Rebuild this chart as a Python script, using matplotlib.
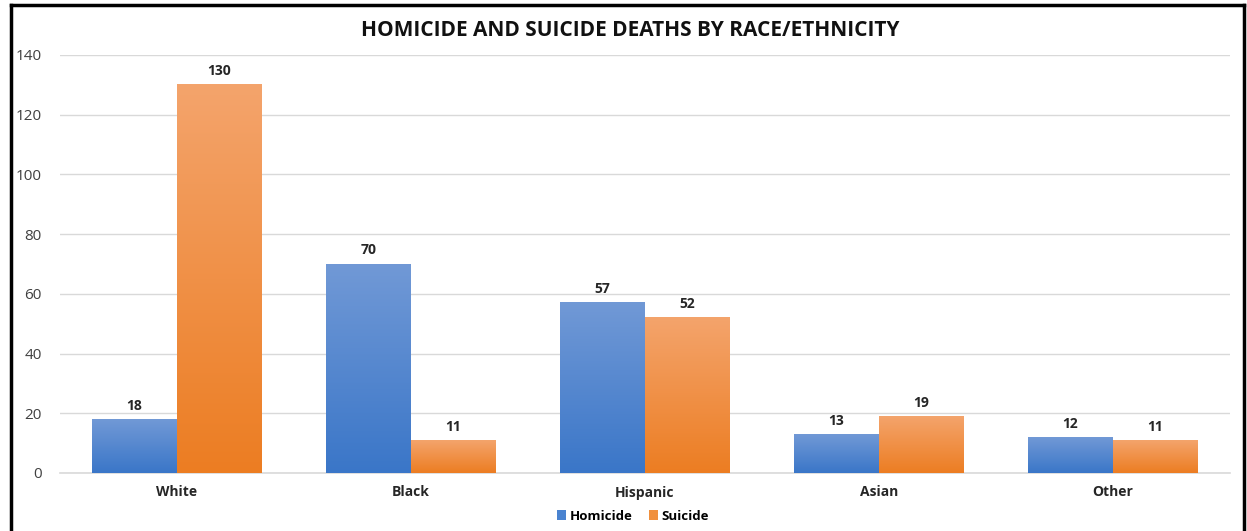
import numpy as np
import matplotlib.pyplot as plt
from matplotlib.colors import LinearSegmentedColormap
from matplotlib.lines import Line2D
from matplotlib.patches import Patch

# --- Data ---
groups = ["White", "Black", "Hispanic", "Asian", "Other"]
homicide = [18, 70, 57, 13, 12]
suicide = [130, 11, 52, 19, 11]

plt.rcParams["font.family"] = ["Open Sans", "DejaVu Sans"]

blue_cmap = LinearSegmentedColormap.from_list("blue", ["#3a76c8", "#7199d6"])
orange_cmap = LinearSegmentedColormap.from_list("orange", ["#ec7d22", "#f4a46c"])

fig = plt.figure(figsize=(12.47, 5.31), dpi=100)
ax = fig.add_axes([60 / 1247, 58 / 531, 1170 / 1247, 418 / 531])

x = np.arange(len(groups))
w = 0.363
grad = np.linspace(0, 1, 256).reshape(-1, 1)


def gradient_bar(xl, h, cmap):
    # vertical gradient, lighter at the top of the bar
    ax.imshow(grad, cmap=cmap, extent=(xl, xl + w, 0, h), origin="lower",
              aspect="auto", zorder=3, interpolation="bilinear")


for i in range(len(groups)):
    gradient_bar(x[i] - w, homicide[i], blue_cmap)
    gradient_bar(x[i], suicide[i], orange_cmap)
    ax.text(x[i] - w / 2, homicide[i] + 2.2, str(homicide[i]), ha="center", va="bottom",
            fontsize=10, fontweight="bold", color="#262626")
    ax.text(x[i] + w / 2, suicide[i] + 2.2, str(suicide[i]), ha="center", va="bottom",
            fontsize=10, fontweight="bold", color="#262626")

ax.set_xlim(-0.5, len(groups) - 0.5)
ax.set_ylim(0, 140)
ax.set_yticks(range(0, 141, 20))
ax.set_xticks(x)
ax.set_xticklabels(groups, fontsize=10, fontweight="bold", color="#262626")
ax.tick_params(axis="y", length=0, labelsize=11, labelcolor="#404040", pad=13)
ax.tick_params(axis="x", length=0, pad=9)
ax.grid(axis="y", color="#d9d9d9", linewidth=1, zorder=0)
ax.set_axisbelow(True)
for s in ["left", "right", "top"]:
    ax.spines[s].set_visible(False)
ax.spines["bottom"].set_color("#d9d9d9")
ax.spines["bottom"].set_linewidth(1.2)

fig.text(630 / 1247, 1 - 30 / 531, "HOMICIDE AND SUICIDE DEATHS BY RACE/ETHNICITY",
         ha="center", va="center", fontsize=15, fontweight="bold", color="#111111",
         family=["Liberation Sans Narrow", "Open Sans", "DejaVu Sans"])

handles = [Patch(facecolor="#4a83d0", label="Homicide"),
           Patch(facecolor="#f0903e", label="Suicide")]
fig.legend(handles=handles, loc="center", bbox_to_anchor=(633 / 1247, 1 - 516 / 531),
           ncol=2, frameon=False, prop={"size": 9.5, "weight": "bold"},
           handlelength=0.7, handleheight=0.7, handletextpad=0.3, columnspacing=1.2)

# black frame around the chart (left, top and right edges)
frame = dict(color="black", linewidth=2.5, transform=fig.transFigure)
fig.add_artist(Line2D([10.5 / 1247, 10.5 / 1247], [0, 1 - 5 / 531], **frame))
fig.add_artist(Line2D([10.5 / 1247, 1244 / 1247], [1 - 5 / 531, 1 - 5 / 531], **frame))
fig.add_artist(Line2D([1244 / 1247, 1244 / 1247], [0, 1 - 5 / 531], **frame))

fig.savefig("out.png", dpi=100)
